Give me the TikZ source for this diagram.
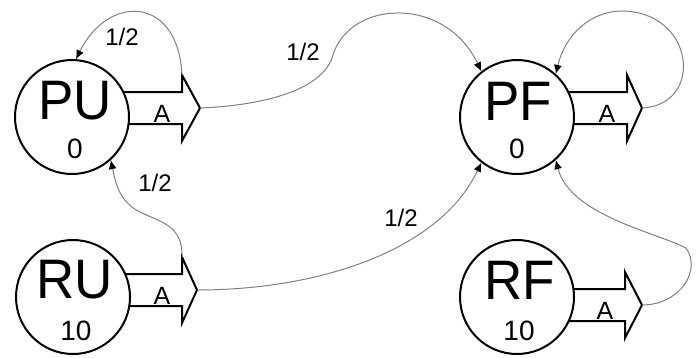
\documentclass[tikz,border=0pt]{standalone}
\usepackage{fontspec}
\setmainfont{Liberation Sans}
\usetikzlibrary{arrows.meta,calc}
\tikzset{
 state/.style={circle,draw=black,line width=2pt,fill=white,minimum size=114pt,inner sep=0pt},
 namelbl/.style={font=\fontsize{53}{53}\selectfont,inner sep=0pt,yscale=1.05},
 numlbl/.style={font=\fontsize{28}{28}\selectfont,inner sep=0pt},
 actlbl/.style={font=\fontsize{25}{25}\selectfont,inner sep=0pt},
 problbl/.style={font=\fontsize{24}{24}\selectfont,inner sep=0pt},
 actshape/.style={draw=black,line width=2pt,fill=white,line join=miter},
 trans/.style={draw=gray,line width=1pt,-{Latex[length=9pt,width=8pt,color=black]}},
}
\newcommand\actarrow[5]{%
  \draw[actshape] (#2,#3-16) -- (#4,#3-16) -- (#4,#3-33) -- (#5,#3) -- (#4,#3+33) -- (#4,#3+16) -- (#2,#3+16) -- cycle;
  \coordinate (#1tip) at (#5,#3);
  \coordinate (#1top) at (#4,#3-33);
  \node[actlbl] (#1lbl) at (#4-20,#3+6) {A};
}
\begin{document}
\begin{tikzpicture}[x=1pt,y=-1pt]
\useasboundingbox (0,0) rectangle (700,357);
% action arrows
\actarrow{PUa}{72}{108}{182}{200}
\actarrow{PFa}{517}{108}{627}{642}
\actarrow{RUa}{73}{290}{182}{197}
\actarrow{RFa}{517}{305}{625}{642}
% states
\node[state] (PU) at (72,117) {};
\node[state] (PF) at (517,117) {};
\node[state] (RU) at (73,297) {};
\node[state] (RF) at (517,297) {};
\node[namelbl] (PUn) at (75,101) {PU};
\node[namelbl] (PFn) at (518,101) {PF};
\node[namelbl] (RUn) at (75,280) {RU};
\node[namelbl] (RFn) at (520,280) {RF};
\node[numlbl] (PUv) at (75,149) {0};
\node[numlbl] (PFv) at (517,149) {0};
\node[numlbl] (RUv) at (76,331) {10};
\node[numlbl] (RFv) at (519,331) {10};
% transitions
\draw[trans] (PUatop) .. controls (178,-5) and (108,-6) .. (PU.86);
\draw[trans] (PUatip) .. controls (270,105) and (324,88) .. (333,55) .. controls (350,0) and (445,-5) .. (PF.128);
\draw[trans] (PFatip) .. controls (705,105) and (695,10) .. (620,11) .. controls (590,12) and (565,35) .. (PF.48);
\draw[trans] (RUatop) .. controls (183,225) and (160,222) .. (140,212) .. controls (120,202) and (116,185) .. (PU.-48);
\draw[trans] (RUatip) .. controls (320,290) and (440,250) .. (PF.-128);
\draw[trans] (RFatip) .. controls (680,305) and (702,270) .. (686,248) .. controls (655,232) and (570,215) .. (PF.-48);
% probabilities
\node[problbl] (p1) at (122,37) {1/2};
\node[problbl] (p2) at (303,52) {1/2};
\node[problbl] (p3) at (155,183) {1/2};
\node[problbl] (p4) at (401,218) {1/2};
\end{tikzpicture}
\end{document}
